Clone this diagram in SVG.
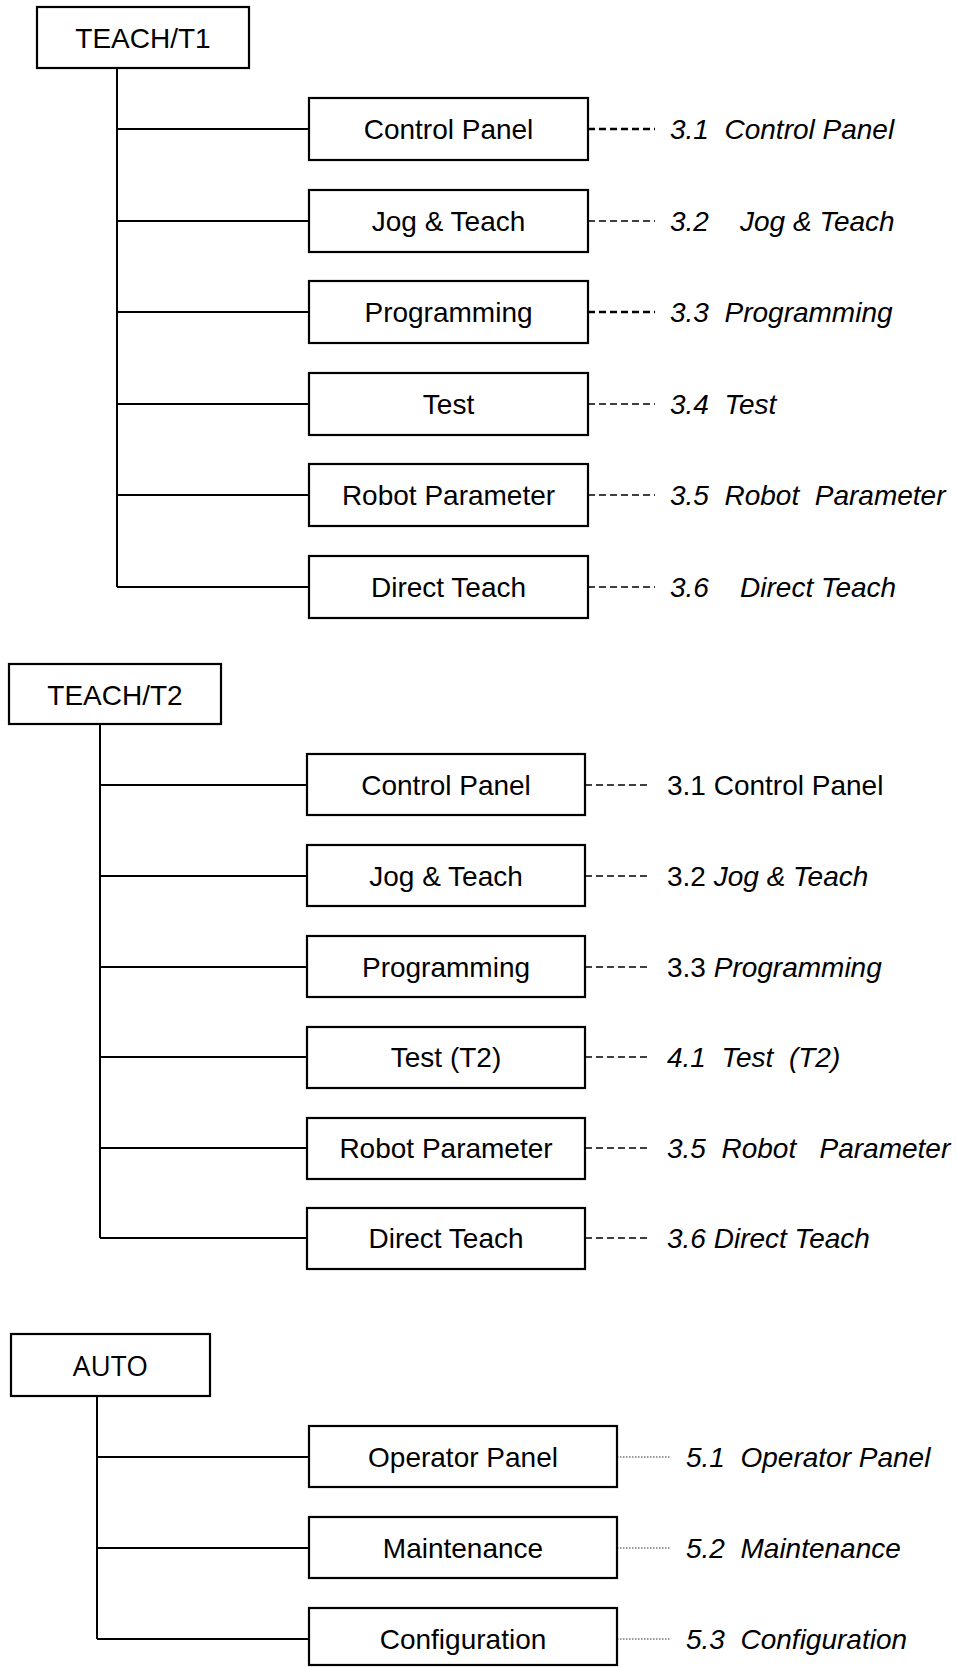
<svg xmlns="http://www.w3.org/2000/svg" width="957" height="1667" viewBox="0 0 957 1667">
<style>
  .box { fill: #ffffff; stroke: #000000; stroke-width: 2.2; }
  .ln { fill: none; stroke: #000000; stroke-width: 2; }
  .dash { fill: none; stroke: #000000; stroke-width: 1.5; stroke-dasharray: 7 4; }
  .dashb { fill: none; stroke: #000000; stroke-width: 2.4; stroke-dasharray: 7 4; }
  .dot { fill: none; stroke: #333333; stroke-width: 1; stroke-dasharray: 1.5 1.5; }
  .t { font-family: "Liberation Sans", Arial, sans-serif; font-size: 28px; fill: #000000; text-anchor: middle; }
  .ta { font-family: "Open Sans", "DejaVu Sans", sans-serif; font-size: 28px; fill: #000000; text-anchor: middle; }
  .ref { font-family: "Liberation Sans", Arial, sans-serif; font-size: 28px; fill: #000000; white-space: pre; }
  .it { font-style: italic; }
</style>
<rect x="0" y="0" width="957" height="1667" fill="#ffffff"/>

<g id="connectors">
  <!-- TEACH/T1 tree -->
  <path class="ln" d="M117,68 V587 M117,129 H309 M117,221 H309 M117,312 H309 M117,404 H309 M117,495 H309 M117,587 H309"/>
  <line class="dashb" x1="588" y1="129" x2="655" y2="129"/>
  <line class="dash" x1="588" y1="221" x2="655" y2="221"/>
  <line class="dashb" x1="588" y1="312" x2="655" y2="312"/>
  <line class="dash" x1="588" y1="404" x2="655" y2="404"/>
  <line class="dash" x1="588" y1="495" x2="655" y2="495"/>
  <line class="dash" x1="588" y1="587" x2="655" y2="587"/>
  <!-- TEACH/T2 tree -->
  <path class="ln" d="M100,724 V1238 M100,785 H307 M100,876 H307 M100,967 H307 M100,1057 H307 M100,1148 H307 M100,1238 H307"/>
  <line class="dash" x1="585" y1="785" x2="651" y2="785"/>
  <line class="dash" x1="585" y1="876" x2="651" y2="876"/>
  <line class="dash" x1="585" y1="967" x2="651" y2="967"/>
  <line class="dash" x1="585" y1="1057" x2="651" y2="1057"/>
  <line class="dash" x1="585" y1="1148" x2="651" y2="1148"/>
  <line class="dash" x1="585" y1="1238" x2="651" y2="1238"/>
  <!-- AUTO tree -->
  <path class="ln" d="M97,1396 V1639 M97,1457 H309 M97,1548 H309 M97,1639 H309"/>
  <line class="dot" x1="617" y1="1457" x2="671" y2="1457"/>
  <line class="dot" x1="617" y1="1548" x2="671" y2="1548"/>
  <line class="dot" x1="617" y1="1639" x2="671" y2="1639"/>
</g>

<!-- TEACH/T1 -->
<g id="teach-t1">
  <rect class="box" x="37" y="7" width="212" height="61"/>
  <text class="t" x="143" y="48">TEACH/T1</text>
</g>
<g id="t1-control-panel">
  <rect class="box" x="309" y="98" width="279" height="62"/>
  <text class="t" x="448.5" y="139">Control Panel</text>
</g>
<g id="t1-jog-teach">
  <rect class="box" x="309" y="190" width="279" height="62"/>
  <text class="t" x="448.5" y="231">Jog &amp; Teach</text>
</g>
<g id="t1-programming">
  <rect class="box" x="309" y="281" width="279" height="62"/>
  <text class="t" x="448.5" y="322">Programming</text>
</g>
<g id="t1-test">
  <rect class="box" x="309" y="373" width="279" height="62"/>
  <text class="t" x="448.5" y="414">Test</text>
</g>
<g id="t1-robot-parameter">
  <rect class="box" x="309" y="464" width="279" height="62"/>
  <text class="t" x="448.5" y="505">Robot Parameter</text>
</g>
<g id="t1-direct-teach">
  <rect class="box" x="309" y="556" width="279" height="62"/>
  <text class="t" x="448.5" y="597">Direct Teach</text>
</g>
<g id="t1-refs">
  <text class="ref it" x="670" y="139" xml:space="preserve">3.1  Control Panel</text>
  <text class="ref it" x="670" y="231" xml:space="preserve">3.2    Jog &amp; Teach</text>
  <text class="ref it" x="670" y="322" xml:space="preserve">3.3  Programming</text>
  <text class="ref it" x="670" y="414" xml:space="preserve">3.4  Test</text>
  <text class="ref it" x="670" y="505" xml:space="preserve">3.5  Robot  Parameter</text>
  <text class="ref it" x="670" y="597" xml:space="preserve">3.6    Direct Teach</text>
</g>

<!-- TEACH/T2 -->
<g id="teach-t2">
  <rect class="box" x="9" y="664" width="212" height="60"/>
  <text class="t" x="115" y="705">TEACH/T2</text>
</g>
<g id="t2-control-panel">
  <rect class="box" x="307" y="754" width="278" height="61"/>
  <text class="t" x="446" y="795">Control Panel</text>
</g>
<g id="t2-jog-teach">
  <rect class="box" x="307" y="845" width="278" height="61"/>
  <text class="t" x="446" y="886">Jog &amp; Teach</text>
</g>
<g id="t2-programming">
  <rect class="box" x="307" y="936" width="278" height="61"/>
  <text class="t" x="446" y="977">Programming</text>
</g>
<g id="t2-test">
  <rect class="box" x="307" y="1027" width="278" height="61"/>
  <text class="t" x="446" y="1067">Test (T2)</text>
</g>
<g id="t2-robot-parameter">
  <rect class="box" x="307" y="1118" width="278" height="61"/>
  <text class="t" x="446" y="1158">Robot Parameter</text>
</g>
<g id="t2-direct-teach">
  <rect class="box" x="307" y="1208" width="278" height="61"/>
  <text class="t" x="446" y="1248">Direct Teach</text>
</g>
<g id="t2-refs">
  <text class="ref" x="667" y="795">3.1 Control Panel</text>
  <text class="ref" x="667" y="886" xml:space="preserve">3.2 <tspan class="it">Jog &amp; Teach</tspan></text>
  <text class="ref" x="667" y="977" xml:space="preserve">3.3 <tspan class="it">Programming</tspan></text>
  <text class="ref it" x="667" y="1067" xml:space="preserve">4.1  Test  (T2)</text>
  <text class="ref it" x="667" y="1158" xml:space="preserve">3.5  Robot   Parameter</text>
  <text class="ref it" x="667" y="1248">3.6 Direct Teach</text>
</g>

<!-- AUTO -->
<g id="auto">
  <rect class="box" x="11" y="1334" width="199" height="62"/>
  <text class="ta" x="110.5" y="1376">AUTO</text>
</g>
<g id="auto-operator-panel">
  <rect class="box" x="309" y="1426" width="308" height="61"/>
  <text class="t" x="463" y="1467">Operator Panel</text>
</g>
<g id="auto-maintenance">
  <rect class="box" x="309" y="1517" width="308" height="61"/>
  <text class="t" x="463" y="1558">Maintenance</text>
</g>
<g id="auto-configuration">
  <rect class="box" x="309" y="1608" width="308" height="57"/>
  <text class="t" x="463" y="1649">Configuration</text>
</g>
<g id="auto-refs">
  <text class="ref it" x="686" y="1467" xml:space="preserve">5.1  Operator Panel</text>
  <text class="ref it" x="686" y="1558" xml:space="preserve">5.2  Maintenance</text>
  <text class="ref it" x="686" y="1649" xml:space="preserve">5.3  Configuration</text>
</g>
</svg>
